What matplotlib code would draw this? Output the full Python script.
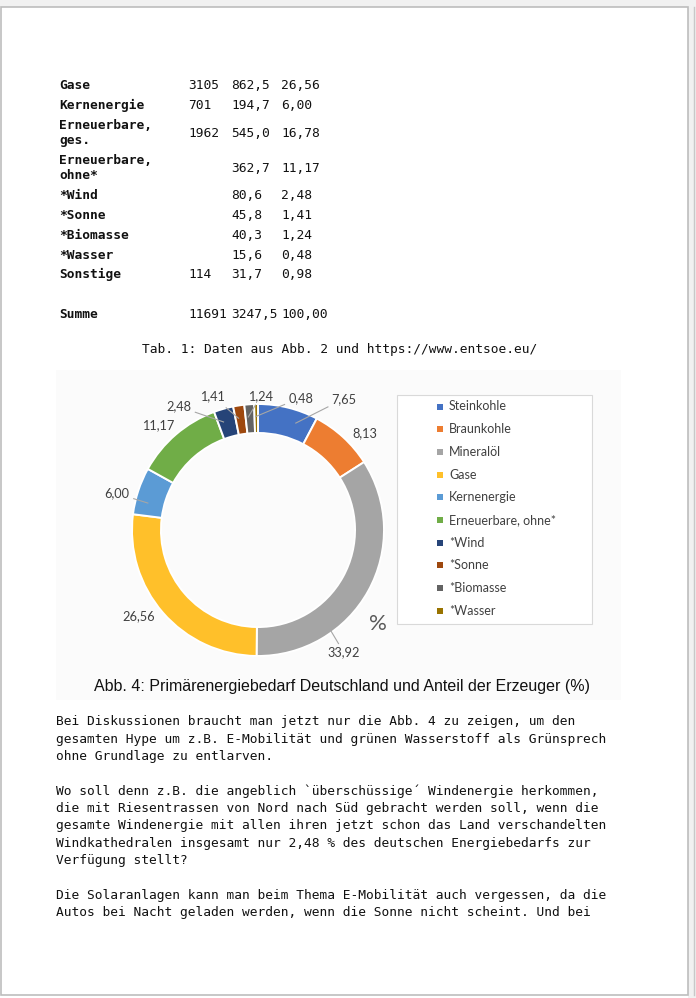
import numpy as np
import matplotlib.pyplot as plt
from matplotlib.patches import Rectangle

# table data (Tab. 1)
tab_rows = ["Gase", "Kernenergie", "Erneuerbare,\nges.", "Erneuerbare,\nohne*", "*Wind",
            "*Sonne", "*Biomasse", "*Wasser", "Sonstige", "", "Summe"]
tab_col1 = ["3105", "701", "1962", "", "", "", "", "", "114", "", "11691"]
tab_col2 = ["862,5", "194,7", "545,0", "362,7", "80,6", "45,8", "40,3", "15,6", "31,7", "", "3247,5"]
tab_col3 = ["26,56", "6,00", "16,78", "11,17", "2,48", "1,41", "1,24", "0,48", "0,98", "", "100,00"]

# donut data (Abb. 4)
categories = ["Steinkohle", "Braunkohle", "Mineralöl", "Gase", "Kernenergie",
              "Erneuerbare, ohne*", "*Wind", "*Sonne", "*Biomasse", "*Wasser"]
shares = [7.65, 8.13, 33.92, 26.56, 6.00, 11.17, 2.48, 1.41, 1.24, 0.48]
colors = ["#4472C4", "#ED7D31", "#A5A5A5", "#FFC02A", "#5B9BD5",
          "#70AD47", "#264478", "#9E480E", "#636363", "#997300"]

body = [
    "Bei Diskussionen braucht man jetzt nur die Abb. 4 zu zeigen, um den",
    "gesamten Hype um z.B. E-Mobilität und grünen Wasserstoff als Grünsprech",
    "ohne Grundlage zu entlarven.",
    "",
    "Wo soll denn z.B. die angeblich `überschüssige´ Windenergie herkommen,",
    "die mit Riesentrassen von Nord nach Süd gebracht werden soll, wenn die",
    "gesamte Windenergie mit allen ihren jetzt schon das Land verschandelten",
    "Windkathedralen insgesamt nur 2,48 % des deutschen Energiebedarfs zur",
    "Verfügung stellt?",
    "",
    "Die Solaranlagen kann man beim Thema E-Mobilität auch vergessen, da die",
    "Autos bei Nacht geladen werden, wenn die Sonne nicht scheint. Und bei",
]

W, H = 696, 998
fig = plt.figure(figsize=(W / 100, H / 100), dpi=100)
bg = fig.add_axes([0, 0, 1, 1])
bg.set_xlim(0, W)
bg.set_ylim(H, 0)
bg.axis("off")

# page frame
bg.add_patch(Rectangle((0, 0), W, 7, facecolor="#f1f1f1", edgecolor="none"))
bg.add_patch(Rectangle((688, 0), 8, H, facecolor="#f1f1f1", edgecolor="none"))
bg.add_patch(Rectangle((1, 7), 687, 988, facecolor="white", edgecolor="#bdbdbd", lw=1.2))
bg.plot([693.5, 693.5], [7, 995], color="#c8c8c8", lw=1)

mono = "DejaVu Sans Mono"
fs = 9.3
txt = "#111111"

# table
row_y = [85, 105, 133, 168, 195, 215, 235, 255, 274, 294, 315]
for lab, a, b, c, y in zip(tab_rows, tab_col1, tab_col2, tab_col3, row_y):
    bg.text(59, y, lab, family=mono, fontsize=fs, weight="bold", va="center",
            color=txt, linespacing=1.15)
    bg.text(188, y, a, family=mono, fontsize=fs, va="center", color=txt)
    bg.text(231, y, b, family=mono, fontsize=fs, va="center", color=txt)
    bg.text(281, y, c, family=mono, fontsize=fs, va="center", color=txt)
bg.text(142, 349, "Tab. 1: Daten aus Abb. 2 und https://www.entsoe.eu/",
        family=mono, fontsize=fs, va="center", color=txt)

# chart area
bg.add_patch(Rectangle((56, 370), 565, 330, facecolor="#fbfbfb", edgecolor="none"))
bg.text(342, 686, "Abb. 4: Primärenergiebedarf Deutschland und Anteil der Erzeuger (%)",
        family="Liberation Sans", fontsize=11.5, ha="center", va="center", color="#111111")
bg.text(378, 624, "%", family="Lato", fontsize=16, ha="center", va="center", color="#595959")

# donut
cx, cy, R = 258, 530, 126
ax = fig.add_axes([(cx - R) / W, (H - cy - R) / H, 2 * R / W, 2 * R / H])
wedges, _ = ax.pie(shares, colors=colors, startangle=90, counterclock=False,
                   wedgeprops=dict(width=0.23, edgecolor="white", linewidth=1.4),
                   radius=1.0)
ax.set_xlim(-1, 1)
ax.set_ylim(-1, 1)
ax.axis("off")

# data labels: position (donut units) and whether a leader line is drawn
label_pos = [(0.68, 1.04, True), (0.85, 0.77, False), (0.68, -0.97, True),
             (-0.95, -0.68, False), (-1.12, 0.29, True), (-0.79, 0.83, False),
             (-0.63, 0.98, True), (-0.36, 1.06, True), (0.02, 1.06, True),
             (0.34, 1.05, True)]
for w, v, (lx, ly, lead) in zip(wedges, shares, label_pos):
    ax.text(lx, ly, f"{v:.2f}".replace(".", ","), family="Lato", fontsize=9.2,
            ha="center", va="center", color="#404040", clip_on=False)
    if lead:
        t1, t2 = sorted((w.theta1, w.theta2))
        ang = np.degrees(np.arctan2(ly, lx))
        ang = min(max(ang, t1 + 0.3 * (t2 - t1)), t2 - 0.3 * (t2 - t1))
        bx, by = 0.9 * np.cos(np.radians(ang)), 0.9 * np.sin(np.radians(ang))
        d = np.hypot(bx - lx, by - ly)
        off = 0.14 if abs(bx - lx) > abs(by - ly) else 0.08
        ax.plot([lx + (bx - lx) * off / d, bx], [ly + (by - ly) * off / d, by],
                color="#a6a6a6", lw=0.8, clip_on=False)

# legend
bg.add_patch(Rectangle((397, 395), 195, 229, facecolor="white", edgecolor="#d9d9d9", lw=0.8))
for i, (name, col) in enumerate(zip(categories, colors)):
    y = 406.5 + i * 22.7
    bg.add_patch(Rectangle((437, y - 3), 6, 6, facecolor=col, edgecolor="none"))
    bg.text(449, y, name, family="Lato", fontsize=9.0, va="center", color="#404040")

# body text
for i, line in enumerate(body):
    bg.text(56, 722 + i * 17.3, line, family=mono, fontsize=fs, va="center", color=txt)

fig.savefig("out.png", dpi=100)
